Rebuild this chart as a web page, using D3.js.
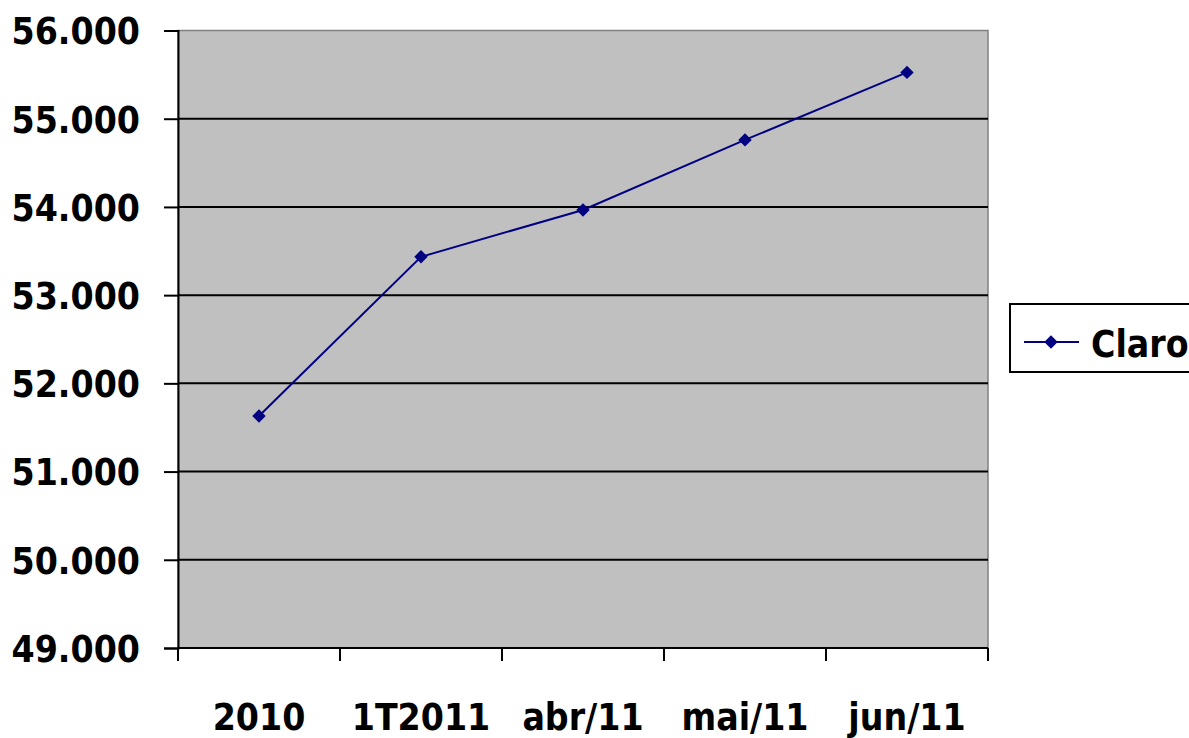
<!DOCTYPE html>
<html>
<head>
<meta charset="utf-8">
<script src="https://cdn.jsdelivr.net/npm/d3@7"></script>
<style>
  html, body { margin: 0; padding: 0; background: #fff; }
  svg text { font-family: "DejaVu Sans", sans-serif; font-stretch: condensed; font-weight: bold; fill: #000; }
</style>
</head>
<body>
<svg id="chart" width="1189" height="738"></svg>
<script>
// Subscriber totals (thousands), Claro
const categories = ["2010", "1T2011", "abr/11", "mai/11", "jun/11"];
const claroValues = [51630, 53435, 53965, 54760, 55525];
const yTicks = [49000, 50000, 51000, 52000, 53000, 54000, 55000, 56000];
const seriesName = "Claro";

const svg = d3.select("#chart");
const plot = { left: 178, right: 988, top: 30.5, bottom: 648 };

const x = d3.scaleBand().domain(categories).range([plot.left, plot.right]);
const y = d3.scaleLinear().domain([49000, 56000]).range([plot.bottom, plot.top]);
const fmt = v => d3.format(",.0f")(v).replace(/,/g, ".");

// plot background
svg.append("rect")
  .attr("x", plot.left).attr("y", plot.top)
  .attr("width", plot.right - plot.left).attr("height", plot.bottom - plot.top)
  .attr("fill", "#c0c0c0")
  .attr("stroke", "#808080").attr("stroke-width", 1.5);

// horizontal gridlines
svg.append("g").selectAll("line")
  .data(yTicks.filter(t => t > 49000 && t < 56000))
  .join("line")
  .attr("x1", plot.left).attr("x2", plot.right)
  .attr("y1", d => y(d)).attr("y2", d => y(d))
  .attr("stroke", "#000").attr("stroke-width", 2);

// y axis
const yAxis = svg.append("g")
  .attr("transform", `translate(${plot.left},0)`)
  .call(d3.axisLeft(y).tickValues(yTicks).tickFormat(fmt).tickSize(14).tickPadding(24));
yAxis.select(".domain").attr("stroke", "#000").attr("stroke-width", 2);
yAxis.selectAll(".tick line").attr("stroke", "#000").attr("stroke-width", 2);
yAxis.selectAll("text").attr("font-size", 37).attr("dy", "0.36em");

// x axis: ticks at category boundaries
const bounds = categories.map(c => x(c)).concat([plot.right]);
const xAxis = svg.append("g");
xAxis.append("line")
  .attr("x1", plot.left).attr("x2", plot.right)
  .attr("y1", plot.bottom).attr("y2", plot.bottom)
  .attr("stroke", "#000").attr("stroke-width", 2);
xAxis.selectAll("line.tick").data(bounds).join("line")
  .attr("class", "tick")
  .attr("x1", d => d).attr("x2", d => d)
  .attr("y1", plot.bottom).attr("y2", plot.bottom + 13)
  .attr("stroke", "#000").attr("stroke-width", 2);
xAxis.selectAll("text").data(categories).join("text")
  .attr("x", d => x(d) + x.bandwidth() / 2)
  .attr("y", 730)
  .attr("text-anchor", "middle")
  .attr("font-size", 37)
  .text(d => d);

// series line + diamond markers
const pts = categories.map((c, i) => [x(c) + x.bandwidth() / 2, y(claroValues[i])]);
svg.append("path")
  .attr("d", d3.line()(pts))
  .attr("fill", "none").attr("stroke", "#000080").attr("stroke-width", 2);
const diamond = d3.symbol().type(d3.symbolSquare).size(90);
svg.append("g").selectAll("path").data(pts).join("path")
  .attr("d", diamond)
  .attr("transform", d => `translate(${d[0]},${d[1]}) rotate(45)`)
  .attr("fill", "#000080");

// legend
const lg = svg.append("g");
lg.append("rect")
  .attr("x", 1010).attr("y", 304).attr("width", 190).attr("height", 68)
  .attr("fill", "#fff").attr("stroke", "#000").attr("stroke-width", 2);
lg.append("line")
  .attr("x1", 1024).attr("x2", 1079).attr("y1", 342).attr("y2", 342)
  .attr("stroke", "#000080").attr("stroke-width", 2);
lg.append("path")
  .attr("d", diamond)
  .attr("transform", "translate(1051,342) rotate(45)")
  .attr("fill", "#000080");
lg.append("text")
  .attr("x", 1091).attr("y", 357)
  .attr("font-size", 37)
  .text(seriesName);
</script>
</body>
</html>
